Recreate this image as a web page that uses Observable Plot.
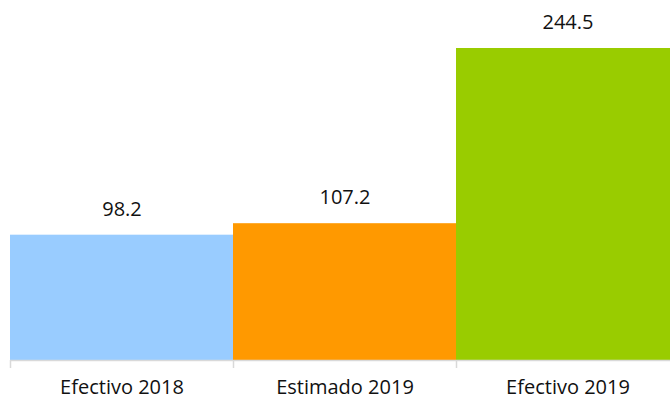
<!DOCTYPE html>
<html>
<head>
<meta charset="utf-8">
<script src="https://cdn.jsdelivr.net/npm/d3@7"></script>
<script src="https://cdn.jsdelivr.net/npm/@observablehq/plot@0.6"></script>
<style>
  html, body { margin: 0; padding: 0; background: #fff; overflow: hidden; }
  #chart svg { display: block; }
</style>
</head>
<body>
<div id="chart"></div>
<script>
const categories = ["Efectivo 2018", "Estimado 2019", "Efectivo 2019"];
const values = [98.2, 107.2, 244.5];
const colors = ["#99ccff", "#ff9900", "#99cc00"];

const data = categories.map((c, i) => ({i, name: c, value: values[i], color: colors[i]}));
const edges = d3.range(categories.length + 1);
const centers = categories.map((c, i) => i + 0.5);

const chart = Plot.plot({
  width: 670,
  height: 400,
  marginLeft: 10,
  marginRight: -9,
  marginTop: 48,
  marginBottom: 40,
  style: {fontFamily: "'Open Sans', sans-serif", fontSize: "20px", color: "#111", background: "#fff"},
  x: {type: "linear", domain: [0, categories.length], axis: null, label: null},
  y: {domain: [0, d3.max(values)], axis: null, label: null},
  marks: [
    Plot.rectY(data, {x1: "i", x2: d => d.i + 1, y1: 0, y2: "value", fill: "color"}),
    Plot.ruleY([0], {stroke: "#d9d9d9", strokeWidth: 1.5}),
    Plot.axisX(edges, {tickSize: 8, tickFormat: () => "", label: null, stroke: "#d9d9d9", strokeWidth: 1.5}),
    Plot.axisX(centers, {tickSize: 0, tickPadding: 19, label: null, tickFormat: d => categories[Math.floor(d)], fontSize: 20, fill: "#111"}),
    Plot.text(data, {x: d => d.i + 0.5, y: "value", text: d => d.value.toFixed(1), dy: -26, fontSize: 20, fill: "#111", textAnchor: "middle"})
  ]
});
document.getElementById("chart").appendChild(chart);
</script>
</body>
</html>
